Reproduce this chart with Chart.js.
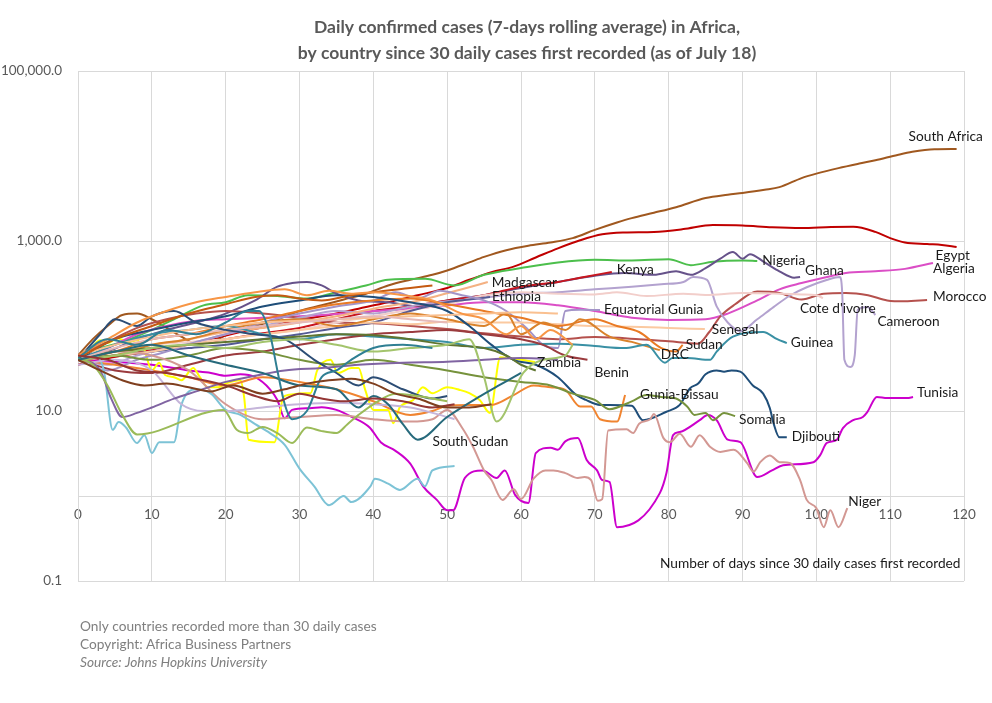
<!DOCTYPE html>
<html>
<head>
<meta charset="utf-8">
<script src="https://cdn.jsdelivr.net/npm/chart.js@4"></script>
<style>
  body { margin: 0; background: #fff; }
  #wrap { width: 992px; height: 703px; }
</style>
</head>
<body>
<div id="wrap"><canvas id="chart" width="992" height="703"></canvas></div>
<script>
// days since 30 daily cases, 7-day average of daily cases
const yTicks = [0.1, 10, 1000, 100000];

const southAfrica = [[0,45],[2,70],[4,100],[6,135],[8,140],[10,120],[12,95],[14,75],[16,62],[18,65],[21,85],[24,100],[27,120],[30,150],[33,175],[36,205],[39,240],[42,300],[45,350],[48,400],[50,450],[53,560],[55,650],[58,780],[61,880],[64,960],[67,1080],[70,1350],[73,1650],[75,1860],[78,2150],[81,2500],[85,3200],[88,3500],[90,3670],[93,4000],[95,4300],[98,5500],[100,6200],[103,7200],[106,8200],[108,8900],[111,10300],[113,11200],[116,12000],[119,12080]];
const egypt = [[0,35],[3,40],[6,45],[10,50],[14,58],[18,70],[22,85],[26,100],[30,118],[34,135],[38,160],[42,190],[46,230],[50,280],[53,350],[56,430],[59,500],[62,640],[65,820],[68,1020],[71,1200],[74,1260],[78,1280],[82,1380],[86,1540],[90,1520],[94,1450],[98,1420],[102,1460],[105,1470],[108,1280],[110,1080],[112,960],[115,920],[117,900],[119,850]];
const nigeria = [[0,45],[3,55],[6,65],[10,90],[13,120],[17,175],[20,190],[23,230],[27,225],[31,210],[35,250],[39,300],[42,350],[47,360],[51,300],[55,400],[60,480],[65,560],[70,600],[75,590],[80,610],[83,520],[86,570],[90,590],[92,582]];
const ghana = [[0,40],[4,50],[8,70],[12,90],[16,110],[20,140],[24,200],[27,290],[29,320],[31,330],[33,300],[35,240],[38,200],[42,190],[46,170],[50,200],[55,230],[60,280],[65,330],[70,390],[74,420],[78,400],[81,440],[83,400],[85,480],[87,620],[88.7,740],[90,620],[91,700],[93,560],[95,440],[97,370],[97.8,377]];
const kenya = [[0,40],[5,45],[10,52],[15,60],[20,70],[25,82],[30,95],[35,120],[40,150],[45,170],[50,200],[55,230],[60,290],[65,330],[68,370],[72.3,432]];
const algeria = [[0,40],[4,55],[8,80],[12,100],[16,115],[20,120],[25,125],[30,130],[35,138],[40,150],[45,160],[50,175],[55,190],[60,190],[65,175],[70,150],[75,125],[80,118],[85,120],[88,140],[92,200],[95,270],[98,320],[101,370],[104,420],[108,440],[112,470],[115.8,551]];
const morocco = [[0,45],[4,65],[8,95],[12,120],[16,140],[20,150],[25,140],[30,125],[35,110],[40,108],[45,100],[50,92],[55,82],[60,75],[65,70],[70,74],[76,70],[80,66],[84,62],[85.5,85],[87,130],[89,180],[92,255],[95,245],[98,205],[101,240],[104,245],[107,230],[109.6,200],[112,195],[115,202]];
const cameroon = [[0,40],[4,35],[8,45],[12,55],[16,65],[20,80],[25,100],[30,125],[35,150],[40,140],[45,170],[50,195],[55,215],[60,240],[65,250],[70,270],[75,290],[79,310],[82,330],[83.3,377],[85.2,348],[86.5,170],[88,110],[89.7,87],[92,120],[94.2,167],[96.5,230],[98.7,286],[101.4,348],[103.2,377],[103.5,250],[103.8,40],[104.6,33],[105.2,45],[105.6,154],[106.9,167],[108,135]];
const coteDIvoire = [[0,40],[5,50],[10,60],[15,65],[20,70],[25,80],[30,90],[35,110],[40,130],[45,155],[50,180],[55,230],[60,250],[65,240],[70,235],[73,250],[77,225],[82,240],[85,232],[90,245],[95,240],[98,235],[100,230],[100.9,213]];
const madagascar = [[0,40],[5,50],[10,60],[15,70],[20,85],[25,95],[30,110],[35,130],[40,160],[45,190],[49,230],[52,270],[55.5,329]];
const ethiopia = [[0,40],[5,45],[10,50],[15,55],[20,60],[25,70],[30,80],[35,95],[40,110],[45,150],[50,190],[53,205],[55.8,219]];
const equatorialGuinea = [[0,40],[4,30],[8,40],[12,50],[16,65],[20,80],[25,110],[30,140],[35,170],[40,200],[43,250],[46,210],[49,260],[52,230],[55,200],[58,150],[61,90],[63,60],[65,55],[66,150],[68,155],[70.7,154]];
const senegal = [[0,40],[5,45],[10,50],[15,60],[20,70],[25,80],[30,90],[35,100],[40,110],[45,105],[50,112],[55,110],[60,110],[65,105],[70,100],[75,98],[80,95],[84.9,92]];
const sudan = [[0,40],[5,50],[10,70],[15,80],[20,100],[25,120],[30,150],[35,180],[40,200],[45,210],[50,180],[55,150],[60,125],[65,100],[70,120],[73,100],[76,85],[79,55],[81,50],[81.9,60]];
const drc = [[0,40],[5,45],[10,60],[15,70],[20,90],[25,110],[30,120],[35,100],[40,120],[45,140],[50,120],[55,100],[58,140],[60,80],[63,110],[66,90],[68,120],[72,75],[75,65],[78.8,52]];
const guinea = [[0,40],[5,60],[10,80],[15,90],[20,100],[25,80],[30,70],[35,80],[40,75],[45,70],[50,65],[55,55],[60,60],[65,62],[70,58],[74,55],[77,60],[79.5,37],[80.5,42],[82.5,42],[85.6,40],[86.5,50],[88.7,75],[92.8,85],[94.7,70],[96,63]];
const zambia = [[0,43],[1,45],[3,68],[4,63],[5.4,72],[6.8,65],[8,68],[9,52],[10,30],[11,37],[11.8,26.5],[13,25],[14,23],[15.6,32],[16.5,25],[17.6,19],[19,19],[20,21],[22,23],[22.5,14.6],[23.1,4.6],[26.6,4.3],[27.8,14.6],[28.4,15.4],[30.7,16.2],[31.5,16.2],[32.4,30],[34.2,40],[35.2,28],[37,32],[38,32],[38.9,17.7],[40,10.3],[42,10.3],[42.7,7.2],[43.6,11.1],[45.4,13.5],[46.7,19],[48,16.2],[50,19],[51.7,17.7],[53,16.2],[54.4,13.5],[55.8,9.5],[57.2,43],[60,40],[61.9,37.6]];
const benin = [[0,40],[5,30],[10,28],[15,35],[20,45],[25,50],[30,60],[35,70],[40,80],[45,85],[50,90],[55,80],[60,70],[63,60],[66,45],[69,40]];
const guineaBissau = [[0,40],[5,35],[10,30],[15,25],[20,20],[25,25],[30,22],[35,18],[40,13],[45,9],[48,10],[50,11.5],[53,11.8],[56,11.8],[59,15.4],[61.7,20],[64,19],[66,17.7],[68,11.3],[69.5,11.3],[70.7,8],[73,7.5],[74.1,15.4]];
const somalia = [[0,40],[5,45],[10,40],[15,45],[20,55],[25,50],[30,40],[35,35],[40,40],[45,35],[50,30],[55,25],[60,22],[64,20],[67,16],[70,13.5],[72,10.5],[75,13],[77,15.4],[79,14.6],[81,14],[82.5,11.3],[83.5,9],[85,9.5],[86,7.8],[87.5,9.5],[89,8.7]];
const djibouti = [[0,40],[5,70],[10,90],[15,110],[20,130],[25,170],[30,200],[35,230],[40,220],[45,190],[50,150],[53,100],[56,60],[59,40],[62,35],[65,25],[67.5,15.4],[68.8,13.5],[70.7,11.8],[72,11.8],[75,11.5],[76.5,7.8],[79.7,9.8],[81.5,11.8],[82.9,18.5],[84,21],[85,27],[86.5,30],[87.5,29],[88.5,30],[89.7,29],[91.4,20],[92.8,16],[93.7,10.8],[94.2,7.2],[95,4.9],[96,4.9]];
const tunisia = [[0,40],[5,38],[10,35],[15,30],[18,28],[20,26],[22,27],[24,25],[26,18],[27,13.5],[28,8.2],[29,10.3],[31.4,10.8],[33,11.1],[35,10.3],[37,8.6],[39.5,6.4],[41,4.3],[43,3.4],[45,2.4],[46.8,1.28],[48.6,0.9],[50,0.68],[50.8,0.68],[52.4,1.63],[54.8,2.0],[56.7,1.63],[57.8,2.0],[59.2,1.03],[61,0.83],[62,3.2],[64,3.7],[65,3.5],[66,4.4],[67.7,4.8],[68.9,2.65],[70.3,2.0],[71,1.54],[72,1.46],[73,0.43],[78.8,1.08],[79.7,1.86],[80.6,5.2],[81.5,5.66],[84.2,7.8],[85.3,9.0],[86.5,7.8],[88,4.6],[89.7,4.3],[92,1.67],[94,2.0],[95.5,2.3],[99.6,2.5],[100.5,3.0],[101.4,4.2],[102.8,4.6],[103.6,6.3],[105,7.8],[106.3,8.5],[106.9,9.7],[108.2,14.6],[109.6,14.2],[112.3,14.2],[113.1,14.6]];
const niger = [[0,40],[5,50],[10,45],[15,30],[20,12],[25,8],[30,8.5],[35,9],[40,8],[45,7.5],[48,8],[50,10.3],[52,6.4],[53.5,3.8],[55,2.0],[56,1.54],[57.5,0.9],[59,1.2],[60,0.92],[61.7,1.6],[63.3,2.0],[64.4,2.0],[66,1.86],[67.7,1.63],[68.6,1.67],[69.5,1.54],[70.4,0.88],[71,0.92],[71.8,5.9],[74.3,6.1],[75.2,5.5],[76,7.1],[77.5,8.0],[78,9.2],[79.3,4.8],[80.2,4.3],[81.5,5.4],[83,3.8],[84.2,5.2],[85.6,3.8],[87,3.3],[88.8,3.5],[90.6,2.45],[91.5,1.93],[92.4,2.5],[93.7,3.0],[95,2.5],[96.4,2.45],[97.8,1.54],[98.7,0.9],[100,0.72],[101,0.43],[101.9,0.68],[103,0.43],[104.2,0.72]];
const southSudan = [[0,40],[2,45],[3.5,30],[4.7,6.0],[5.5,7.4],[6.5,6.4],[8,4.2],[9,5.2],[10,3.2],[11,4.3],[13,4.3],[14,11.8],[16,18],[18,16],[20,10.3],[22,9],[24,7],[26,5.5],[28,4],[30,2.1],[32,1.3],[34,0.78],[36,1.0],[37,0.85],[39.6,1.3],[40.2,1.6],[42,1.4],[43.6,1.18],[46,1.6],[47,1.3],[48,2.0],[51,2.25]];

// countries without a label on the chart
const other1 = [[0,40],[3,30],[6,23],[9,20],[12,21],[15,19],[18,17],[21,20],[25,16],[28,18],[31,21],[34,23],[37,24],[40,21],[43,16],[46,14],[50,11],[53,11],[56,12]];
const other2 = [[0,45],[4,40],[8,30],[12,28],[16,24],[20,20],[24,15],[27,13],[30,16],[33,14],[36,13],[40,14],[44,13],[48,11],[51,12]];
const other3 = [[0,42],[4,70],[8,60],[12,90],[16,80],[20,110],[23,150],[24.5,150],[26,80],[27,30],[28,12],[29,8],[31,10],[33,25],[35,30],[37,40],[40,55],[44,60],[48,55]];
const other4 = [[0,40],[5,50],[10,60],[15,45],[20,35],[25,28],[30,20],[35,18],[38,11],[40,15],[42,12],[44,7],[46,4.6],[50,8.5],[54.5,15],[57,20],[59,25],[60,28]];
const other5 = [[0,42],[2,35],[4,20],[6,9],[8,5.3],[19.7,10.3],[21.5,6],[23,5.5],[25,6.5],[27,5.5],[29,4.2],[31,6.4],[33,5.8],[35,5.5],[36.5,7],[38,9],[40,12],[43,16],[46,15],[50,13]];
const other6 = [[0,40],[5,45],[10,55],[15,60],[20,55],[25,65],[30,70],[35,60],[40,50],[45,55],[50,60],[53,70],[55,25],[56.7,7.5],[60.3,28],[63,40],[66,45],[67,60]];
const other7 = [[0,42],[3,30],[4.5,14],[6,8.5],[8,9.5],[10,11],[13,14],[16,17],[20,22],[24,26],[28,30],[33,32],[38,35],[44,37],[50,38],[55,40],[60,42],[65,40]];
const other8 = [[0,35],[5,40],[10,30],[14,12],[17,10],[20,10],[25,11],[30,12],[35,12.5],[40,12],[45,11],[49,9],[51,8]];
const other9 = [[0,45],[4,70],[8,110],[12,150],[16,190],[20,220],[24,250],[28,270],[31,230],[34,260],[37,240],[40,250],[44,230],[48,200],[52,140],[55,120],[58,80],[60,100],[62,70],[64,90],[67,60]];
const other10 = [[0,40],[3,80],[5,120],[8,100],[10,130],[13,150],[16,110],[20,90],[24,80],[28,70],[32,40],[35,28],[38,20],[40,25],[44,18],[48,14],[50,15]];
const other11 = [[0,40],[5,55],[10,70],[15,80],[20,90],[25,100],[30,110],[35,120],[40,130],[45,120],[50,110]];
const other12 = [[0,42],[5,70],[10,100],[15,140],[20,180],[24,220],[27,230],[30,210],[33,200],[37,230],[40,250],[45,280],[48,300]];
const other13 = [[0,40],[5,50],[10,55],[15,60],[20,65],[25,70],[30,75],[35,80],[40,78],[45,70],[50,60],[55,55],[58,45],[60,35],[62,30]];
const other14 = [[0,45],[5,60],[10,75],[15,90],[20,100],[25,110],[30,115],[35,120],[40,125],[45,130],[50,135],[55,140],[60,145],[65,140]];

// drawing order: first is at the back
const series = [
  ["", other1, "#7F3F1F"], ["", other2, "#943634"], ["", other3, "#2F7F93"],
  ["", other4, "#276A7C"], ["", other5, "#9BBB59"], ["", other6, "#A3C46C"],
  ["", other7, "#8064A2"], ["", other8, "#C5B5DA"], ["", other9, "#F79646"],
  ["", other10, "#2C4D75"], ["", other11, "#E6B9B8"], ["", other12, "#C55A11"],
  ["", other13, "#5F7530"], ["", other14, "#FAC090"],
  ["South Sudan", southSudan, "#7DC3D6"], ["Niger", niger, "#D39893"],
  ["Somalia", somalia, "#76923C"], ["Djibouti", djibouti, "#1F4E79"],
  ["Gunia-Bissau", guineaBissau, "#F08430"], ["Benin", benin, "#9B3B3E"],
  ["Guinea", guinea, "#3A90A4"], ["DRC", drc, "#D9822B"], ["Sudan", sudan, "#E97A24"],
  ["Senegal", senegal, "#FBC9A0"], ["Equatorial Gunia", equatorialGuinea, "#A394C8"],
  ["Ethiopia", ethiopia, "#545A94"], ["Madgascar", madagascar, "#F4B183"],
  ["Cote d'ivoire", coteDIvoire, "#F2CECA"], ["Cameroon", cameroon, "#B3A2CF"],
  ["Morocco", morocco, "#B5514D"], ["Algeria", algeria, "#DB4EC6"],
  ["Zambia", zambia, "#FFFF00"], ["Tunisia", tunisia, "#CC00CC"],
  ["Kenya", kenya, "#C8161E"], ["Ghana", ghana, "#66528A"], ["Nigeria", nigeria, "#4CBF4C"],
  ["Egypt", egypt, "#C00000"], ["South Africa", southAfrica, "#A0581F"]
];

// where each name sits relative to the last point of its line
const labelOffsets = {
  "South Africa": [-48, -12], "Egypt": [-21, 9], "Algeria": [0, 6], "Morocco": [6, -3],
  "Cameroon": [2, 7], "Cote d'ivoire": [-23, 10], "Ghana": [5, -6], "Nigeria": [5, 0],
  "Kenya": [5, -2], "Madgascar": [4, 1], "Ethiopia": [2, 0], "Equatorial Gunia": [4, 0],
  "Zambia": [2, 0], "Benin": [7, 13], "DRC": [1, 4], "Sudan": [3, 0], "Senegal": [7, 1],
  "Guinea": [4, 0], "Gunia-Bissau": [15, 0], "Somalia": [4, 3], "Djibouti": [5, -1],
  "Tunisia": [4, -4], "Niger": [1, -7], "South Sudan": [-22, -24]
};

const grey = "#595959";
const gridGrey = "#d9d9d9";
const bodyFont = "Lato, 'Open Sans', sans-serif";

const textPlugin = {
  id: "texts",
  afterDraw(chart) {
    const ctx = chart.ctx;
    ctx.save();
    ctx.textBaseline = "middle";

    ctx.fillStyle = grey;
    ctx.textAlign = "center";
    ctx.font = "bold 17.5px " + bodyFont;
    ctx.fillText("Daily confirmed cases (7-days rolling average) in Africa,", 527, 27);
    ctx.fillText("by country since 30 daily cases first recorded (as of July 18)", 527, 53);

    ctx.textAlign = "left";
    ctx.font = "13.7px " + bodyFont;
    chart.data.datasets.forEach((ds) => {
      const off = labelOffsets[ds.label];
      if (!off) return;
      const last = ds.data[ds.data.length - 1];
      const x = chart.scales.x.getPixelForValue(last.x) + off[0];
      const y = chart.scales.y.getPixelForValue(last.y) + off[1];
      ctx.fillStyle = "#1a1a1a";
      ctx.fillText(ds.label, x, y);
    });

    ctx.fillStyle = "#1a1a1a";
    ctx.fillText("Number of days since 30 daily cases first recorded", 660, 564);

    ctx.fillStyle = "#7f7f7f";
    ctx.fillText("Only countries recorded more than 30 daily cases", 80, 627);
    ctx.fillText("Copyright: Africa Business Partners", 80, 645);
    ctx.font = "italic 13.7px " + bodyFont;
    ctx.fillText("Source: Johns Hopkins University", 80, 663);
    ctx.restore();
  }
};

new Chart(document.getElementById("chart"), {
  type: "line",
  data: {
    datasets: series.map(([name, pts, color]) => ({
      label: name,
      data: pts.map(([d, v]) => ({ x: d, y: v })),
      borderColor: color,
      backgroundColor: color,
      borderWidth: 2,
      pointRadius: 0,
      cubicInterpolationMode: "monotone",
      fill: false
    }))
  },
  options: {
    responsive: false,
    animation: false,
    layout: { padding: { left: 0, top: 71, right: 28, bottom: 122 } },
    plugins: { legend: { display: false }, tooltip: { enabled: false }, title: { display: false } },
    scales: {
      x: {
        type: "linear",
        min: 0,
        max: 120,
        position: { y: 1 },
        ticks: { stepSize: 10, color: grey, font: { family: bodyFont, size: 13.5 }, padding: 11, maxRotation: 0 },
        grid: { color: gridGrey, drawTicks: false },
        border: { color: gridGrey }
      },
      y: {
        type: "logarithmic",
        min: 0.1,
        max: 100000,
        afterBuildTicks: (s) => { s.ticks = yTicks.map((v) => ({ value: v })); },
        afterFit: (s) => { s.width = 78; },
        ticks: {
          color: grey,
          font: { family: bodyFont, size: 13.5 },
          padding: 16,
          callback: (v) => Number(v).toLocaleString("en-US", { minimumFractionDigits: 1, maximumFractionDigits: 1 })
        },
        grid: { color: gridGrey, drawTicks: false },
        border: { color: gridGrey }
      }
    }
  },
  plugins: [textPlugin]
});
</script>
</body>
</html>
